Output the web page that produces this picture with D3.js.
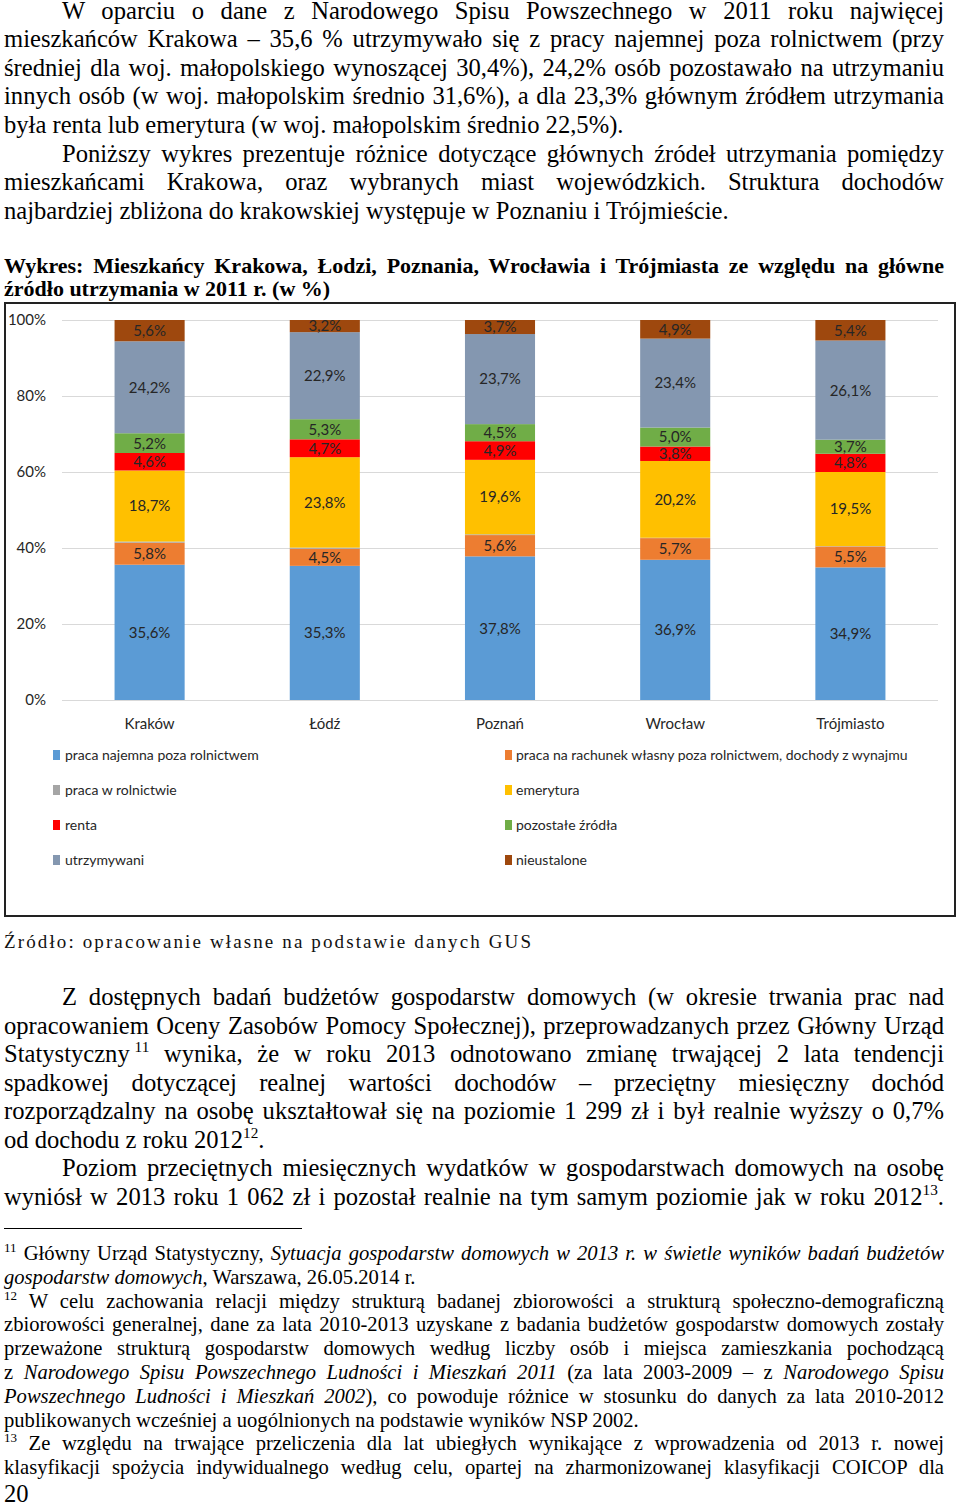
<!DOCTYPE html>
<html>
<head>
<meta charset="utf-8">
<script src="https://cdn.jsdelivr.net/npm/d3@7"></script>
<style>
  html, body { margin: 0; padding: 0; background: #fff; }
  svg { display: block; }
</style>
</head>
<body>
<div id="root"></div>
<script>
// ---------------- DATA ----------------
const cities = ["Kraków", "Łódź", "Poznań", "Wrocław", "Trójmiasto"];
const seriesNames = [
  "praca najemna poza rolnictwem",
  "praca na rachunek własny poza rolnictwem, dochody z wynajmu",
  "praca w rolnictwie",
  "emerytura",
  "renta",
  "pozostałe źródła",
  "utrzymywani",
  "nieustalone"
];
const pracaNajemna   = [35.6, 35.3, 37.8, 36.9, 34.9];
const rachunekWlasny = [5.8, 4.5, 5.6, 5.7, 5.5];
const pracaRolnictwo = [0.3, 0.3, 0.2, 0.1, 0.1];
const emerytura      = [18.7, 23.8, 19.6, 20.2, 19.5];
const renta          = [4.6, 4.7, 4.9, 3.8, 4.8];
const pozostale      = [5.2, 5.3, 4.5, 5.0, 3.7];
const utrzymywani    = [24.2, 22.9, 23.7, 23.4, 26.1];
const nieustalone    = [5.6, 3.2, 3.7, 4.9, 5.4];
const seriesValues = [pracaNajemna, rachunekWlasny, pracaRolnictwo, emerytura, renta, pozostale, utrzymywani, nieustalone];
const seriesColors = ["#5B9BD5", "#ED7D31", "#A5A5A5", "#FFC000", "#FF0000", "#70AD47", "#8497B0", "#9E480E"];
const labelledSeries = [true, true, false, true, true, true, true, true];
const yTickValues = [0, 0.2, 0.4, 0.6, 0.8, 1.0];

// ---------------- TEXT ----------------
const para1 = [
  "W oparciu o dane z Narodowego Spisu Powszechnego w 2011 roku najwięcej",
  "mieszkańców Krakowa – 35,6 % utrzymywało się z pracy najemnej poza rolnictwem (przy",
  "średniej dla woj. małopolskiego wynoszącej 30,4%), 24,2% osób pozostawało na utrzymaniu",
  "innych osób (w woj. małopolskim średnio 31,6%), a dla 23,3% głównym źródłem utrzymania",
  "była renta lub emerytura (w woj. małopolskim średnio 22,5%)."
];
const para2 = [
  "Poniższy wykres prezentuje różnice dotyczące głównych źródeł utrzymania pomiędzy",
  "mieszkańcami Krakowa, oraz wybranych miast wojewódzkich. Struktura dochodów",
  "najbardziej zbliżona do krakowskiej występuje w Poznaniu i Trójmieście."
];
const titleLines = [
  "Wykres: Mieszkańcy Krakowa, Łodzi, Poznania, Wrocławia i Trójmiasta ze względu na główne",
  "źródło utrzymania w 2011 r. (w %)"
];
const sourceText = "Źródło: opracowanie własne na podstawie danych GUS";
const para3 = [
  "Z dostępnych badań budżetów gospodarstw domowych (w okresie trwania prac nad",
  "opracowaniem Oceny Zasobów Pomocy Społecznej), przeprowadzanych przez Główny Urząd",
  "Statystyczny\u2009^11^ wynika, że w roku 2013 odnotowano zmianę trwającej 2 lata tendencji",
  "spadkowej dotyczącej realnej wartości dochodów – przeciętny miesięczny dochód",
  "rozporządzalny na osobę ukształtował się na poziomie 1 299 zł i był realnie wyższy o 0,7%",
  "od dochodu z roku 2012^12^."
];
const para4 = [
  "Poziom przeciętnych miesięcznych wydatków w gospodarstwach domowych na osobę",
  "wyniósł w 2013 roku 1 062 zł i pozostał realnie na tym samym poziomie jak w roku 2012^13^."
];
const footnotes = [
  ["^11^ Główny Urząd Statystyczny, _Sytuacja gospodarstw domowych w 2013 r. w świetle wyników badań budżetów_", true],
  ["_gospodarstw domowych_, Warszawa, 26.05.2014 r.", false],
  ["^12^ W celu zachowania relacji między strukturą badanej zbiorowości a strukturą społeczno-demograficzną", true],
  ["zbiorowości generalnej, dane za lata 2010-2013 uzyskane z badania budżetów gospodarstw domowych zostały", true],
  ["przeważone strukturą gospodarstw domowych według liczby osób i miejsca zamieszkania pochodzącą", true],
  ["z _Narodowego Spisu Powszechnego Ludności i Mieszkań 2011_ (za lata 2003-2009 – z _Narodowego Spisu_", true],
  ["_Powszechnego Ludności i Mieszkań 2002_), co powoduje różnice w stosunku do danych za lata 2010-2012", true],
  ["publikowanych wcześniej a uogólnionych na podstawie wyników NSP 2002.", false],
  ["^13^ Ze względu na trwające przeliczenia dla lat ubiegłych wynikające z wprowadzenia od 2013 r. nowej", true],
  ["klasyfikacji spożycia indywidualnego według celu, opartej na zharmonizowanej klasyfikacji COICOP dla", true]
];
const pageNumber = "20";

// ---------------- SETUP ----------------
const W = 960, H = 1506;
const svg = d3.select("#root").append("svg").attr("width", W).attr("height", H);
svg.append("rect").attr("width", W).attr("height", H).attr("fill", "#fff");

const SERIF = "'Liberation Serif', 'Times New Roman', serif";
const SANS = "Lato, 'Open Sans', sans-serif";

function drawLine(g, str, x, y, width, o) {
  const size = o.size;
  const t = g.append("text")
    .attr("x", x).attr("y", y)
    .style("font-family", SERIF)
    .style("font-size", size + "px")
    .style("font-weight", o.bold ? "bold" : "normal")
    .attr("fill", "#000");
  const parts = str.split(/(\^[^\^]+\^|_[^_]+_)/).filter(s => s.length);
  let pending = 0;
  const raise = o.supRaise || size * 0.4;
  parts.forEach(p => {
    if (p[0] === "^") {
      t.append("tspan").attr("dy", -raise - pending)
        .style("font-size", (o.supSize || size * 0.62) + "px")
        .text(p.slice(1, -1));
      pending = -raise;
    } else {
      const ts = t.append("tspan").text(p[0] === "_" ? p.slice(1, -1) : p);
      if (p[0] === "_") ts.style("font-style", "italic");
      if (pending) { ts.attr("dy", -pending); pending = 0; }
    }
  });
  if (o.justify) {
    const plain = str.replace(/[\^_]/g, "");
    const spaces = (plain.match(/ /g) || []).length;
    const w = t.node().getComputedTextLength();
    if (spaces > 0) t.style("word-spacing", ((width - w) / spaces) + "px");
  }
  return t;
}

function drawParagraph(g, lines, baseline0, step, size, justifyLast) {
  lines.forEach((ln, i) => {
    const indent = i === 0 ? 62 : 4;
    const last = i === lines.length - 1;
    drawLine(g, ln, indent, baseline0 + i * step, 944 - indent,
      { size: size, justify: !last || justifyLast });
  });
}

const textG = svg.append("g");
drawParagraph(textG, para1, 18.5, 28.6, 24.6, false);
drawParagraph(textG, para2, 18.5 + 5 * 28.6, 28.6, 24.6, false);
drawLine(textG, titleLines[0], 4, 273, 940, { size: 22, bold: true, justify: true });
drawLine(textG, titleLines[1], 4, 296, 940, { size: 22, bold: true, justify: false });

textG.append("text")
  .attr("x", 4).attr("y", 948)
  .attr("textLength", 527).attr("lengthAdjust", "spacing")
  .style("font-family", SERIF).style("font-size", "19px")
  .attr("fill", "#111")
  .text(sourceText);

drawParagraph(textG, para3, 1005, 28.5, 24.6, false);
drawParagraph(textG, para4, 1005 + 6 * 28.5, 28.5, 24.6, true);

textG.append("line")
  .attr("x1", 4).attr("x2", 302).attr("y1", 1228.5).attr("y2", 1228.5)
  .attr("stroke", "#000").attr("stroke-width", 1);

footnotes.forEach((fn, i) => {
  drawLine(textG, fn[0], 4, 1260 + i * 23.8, 940, { size: 20.6, justify: fn[1], supSize: 13, supRaise: 8 });
});
drawLine(textG, pageNumber, 4, 1502, 940, { size: 24.6, justify: false });

// ---------------- CHART ----------------
const chartG = svg.append("g");
chartG.append("rect")
  .attr("x", 5).attr("y", 303).attr("width", 950).attr("height", 613)
  .attr("fill", "#fff").attr("stroke", "#222").attr("stroke-width", 2);

const rows = cities.map((c, ci) => {
  const r = { city: c };
  seriesNames.forEach((s, si) => { r[s] = seriesValues[si][ci]; });
  return r;
});
const stacked = d3.stack().keys(seriesNames).offset(d3.stackOffsetExpand)(rows);

const x = d3.scaleBand().domain(cities).range([62, 938]).paddingInner(0.6).paddingOuter(0.3);
const y = d3.scaleLinear().domain([0, 1]).range([700, 320]);

const yAxis = chartG.append("g").attr("transform", "translate(62,0)")
  .call(d3.axisLeft(y).tickValues(yTickValues).tickFormat(d3.format(".0%")).tickSize(-876).tickPadding(16));
yAxis.select(".domain").remove();
yAxis.selectAll(".tick line").attr("stroke", "#D9D9D9").attr("stroke-width", 1);
yAxis.selectAll(".tick text").style("font-family", SANS).style("font-size", "15px").attr("fill", "#262626");

const xAxis = chartG.append("g").attr("transform", "translate(0,700)")
  .call(d3.axisBottom(x).tickSize(0).tickPadding(18));
xAxis.select(".domain").remove();
xAxis.selectAll(".tick text").style("font-family", SANS).style("font-size", "15px").attr("fill", "#262626");

const fmt = v => d3.format(".1f")(v).replace(".", ",") + "%";

const layers = chartG.append("g").selectAll("g.layer").data(stacked).join("g")
  .attr("class", "layer")
  .attr("fill", (d, i) => seriesColors[i]);
layers.selectAll("rect").data(d => d).join("rect")
  .attr("x", d => x(d.data.city))
  .attr("width", x.bandwidth())
  .attr("y", d => y(d[1]))
  .attr("height", d => y(d[0]) - y(d[1]));

const labelG = chartG.append("g");
stacked.forEach((layer, i) => {
  if (!labelledSeries[i]) return;
  labelG.selectAll(null).data(layer).join("text")
    .attr("x", d => x(d.data.city) + x.bandwidth() / 2)
    .attr("y", d => (y(d[0]) + y(d[1])) / 2)
    .attr("dy", "0.36em")
    .attr("text-anchor", "middle")
    .style("font-family", SANS).style("font-size", "15px")
    .attr("fill", "#262626")
    .text(d => fmt(d.data[layer.key]));
});

// legend
const legendG = chartG.append("g");
const legendColX = [53, 505];
const legendTextX = [65, 516];
seriesNames.forEach((s, i) => {
  const col = i % 2, row = Math.floor(i / 2);
  const cy = 755 + row * 35;
  legendG.append("rect")
    .attr("x", legendColX[col]).attr("y", cy - 5)
    .attr("width", 7).attr("height", 10)
    .attr("fill", seriesColors[i]);
  legendG.append("text")
    .attr("x", legendTextX[col]).attr("y", cy)
    .attr("dy", "0.35em")
    .style("font-family", SANS).style("font-size", "14px")
    .attr("fill", "#262626")
    .text(s);
});
</script>
</body>
</html>
